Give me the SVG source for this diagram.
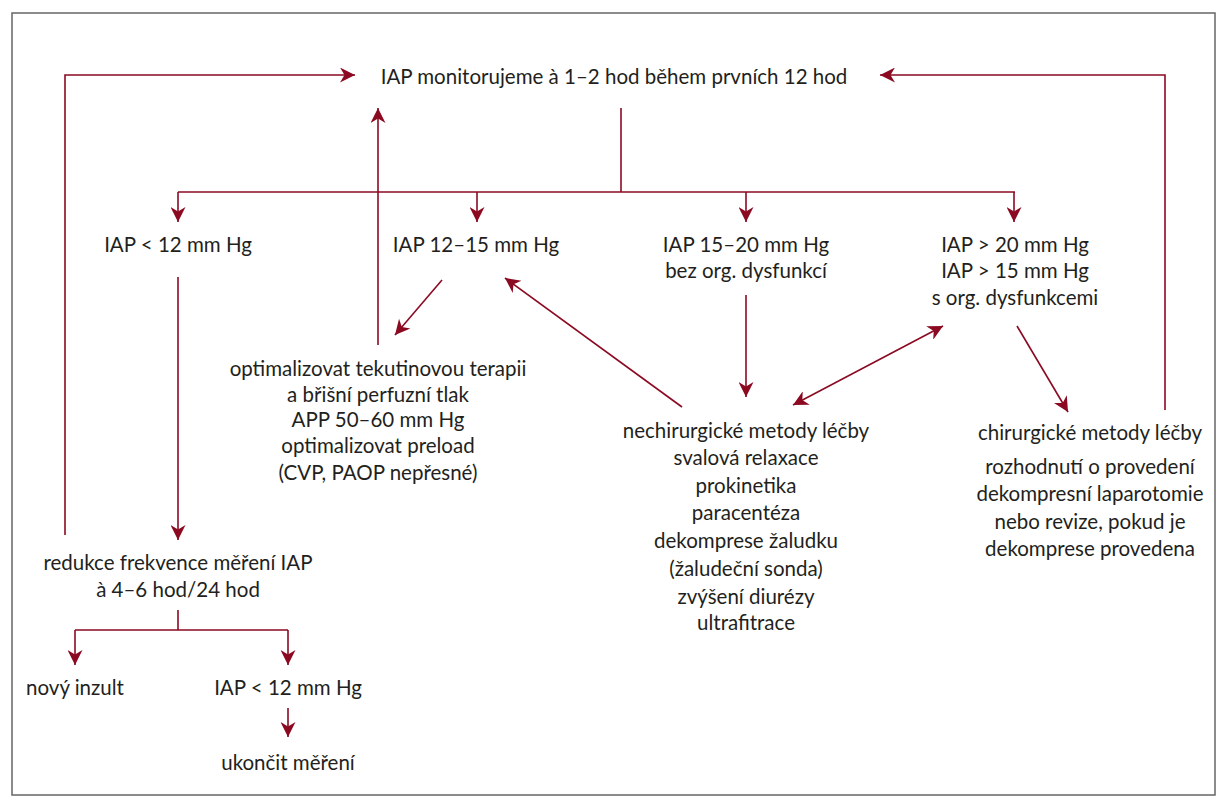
<svg xmlns="http://www.w3.org/2000/svg" width="1228" height="800" viewBox="0 0 1228 800">
<style>
text{font-family:"Lato","Open Sans",sans-serif;font-size:20.5px;fill:#231f20;text-anchor:middle}
.c{stroke:#8b0a22;stroke-width:1.6;fill:none}
</style>
<defs><marker id="a" viewBox="0 0 10 10" refX="10" refY="5" markerWidth="17" markerHeight="15" markerUnits="userSpaceOnUse" orient="auto-start-reverse"><path d="M0,0 L10,5 L0,10 L3,5 z" fill="#8b0a22"/></marker></defs>
<rect x="0" y="0" width="1228" height="800" fill="#fff"/>
<rect x="12" y="13" width="1203" height="782" fill="none" stroke="#666" stroke-width="1.5"/>
<g id="connectors">
<path class="c" d="M65,535 V75 H355" marker-end="url(#a)"/>
<path class="c" d="M1165,410 V75 H880" marker-end="url(#a)"/>
<path class="c" d="M621,108 V192"/>
<path class="c" d="M178,192 H1015"/>
<path class="c" d="M178,192 V222" marker-end="url(#a)"/>
<path class="c" d="M477,192 V222" marker-end="url(#a)"/>
<path class="c" d="M746,192 V222" marker-end="url(#a)"/>
<path class="c" d="M1014,192 V222" marker-end="url(#a)"/>
<path class="c" d="M378,345 V108" marker-end="url(#a)"/>
<path class="c" d="M442,280 L395,335" marker-end="url(#a)"/>
<path class="c" d="M682,407 L505,278" marker-end="url(#a)"/>
<path class="c" d="M746,295 V397" marker-end="url(#a)"/>
<path class="c" d="M793,405 L943,326" marker-start="url(#a)" marker-end="url(#a)"/>
<path class="c" d="M1017,326 L1068,412" marker-end="url(#a)"/>
<path class="c" d="M178,277 V540" marker-end="url(#a)"/>
<path class="c" d="M178,610 V630 M75,630 H288"/>
<path class="c" d="M75,630 V665" marker-end="url(#a)"/>
<path class="c" d="M288,630 V665" marker-end="url(#a)"/>
<path class="c" d="M288,708 V737" marker-end="url(#a)"/>
</g>
<g id="top"><text x="614" y="84">IAP monitorujeme à 1–2 hod během prvních 12 hod</text></g>
<g id="n1"><text x="178" y="252">IAP &lt; 12 mm Hg</text></g>
<g id="n2"><text x="476" y="252">IAP 12–15 mm Hg</text></g>
<g id="n3"><text x="746" y="252">IAP 15–20 mm Hg</text><text x="746" y="278">bez org. dysfunkcí</text></g>
<g id="n4"><text x="1015" y="252">IAP &gt; 20 mm Hg</text><text x="1015" y="278">IAP &gt; 15 mm Hg</text><text x="1015" y="305">s org. dysfunkcemi</text></g>
<g id="opt"><text x="378" y="376">optimalizovat tekutinovou terapii</text><text x="378" y="402">a břišní perfuzní tlak</text><text x="378" y="427">APP 50–60 mm Hg</text><text x="378" y="453">optimalizovat preload</text><text x="378" y="480">(CVP, PAOP nepřesné)</text></g>
<g id="nech"><text x="746" y="438">nechirurgické metody léčby</text><text x="746" y="465">svalová relaxace</text><text x="746" y="493">prokinetika</text><text x="746" y="520">paracentéza</text><text x="746" y="548">dekomprese žaludku</text><text x="746" y="576">(žaludeční sonda)</text><text x="746" y="604">zvýšení diurézy</text><text x="746" y="630">ultrafitrace</text></g>
<g id="chir"><text x="1090" y="440">chirurgické metody léčby</text><text x="1090" y="474">rozhodnutí o provedení</text><text x="1090" y="501">dekompresní laparotomie</text><text x="1090" y="529">nebo revize, pokud je</text><text x="1090" y="556">dekomprese provedena</text></g>
<g id="red"><text x="178" y="570">redukce frekvence měření IAP</text><text x="178" y="597">à 4–6 hod/24 hod</text></g>
<g id="novy"><text x="75" y="695">nový inzult</text></g>
<g id="n5"><text x="288" y="695">IAP &lt; 12 mm Hg</text></g>
<g id="ukon"><text x="288" y="770">ukončit měření</text></g>
</svg>
